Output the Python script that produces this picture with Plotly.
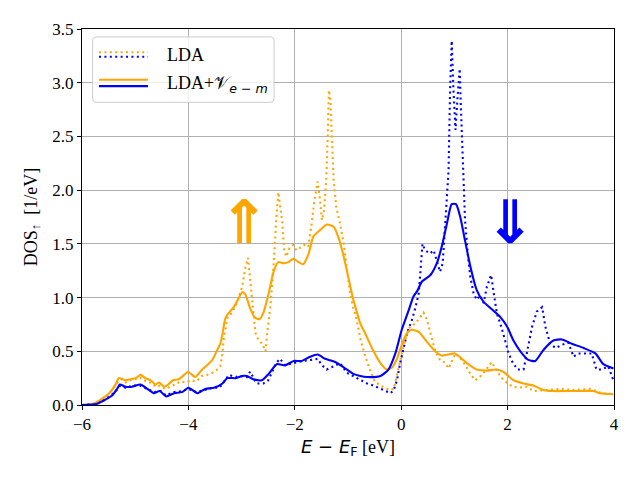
import plotly.graph_objects as go

# ---------------- data ----------------
x_lda_up = [-6.00, -5.80, -5.70, -5.60, -5.50, -5.40, -5.32, -5.25, -5.18, -5.10, -5.00, -4.92, -4.85, -4.75,
            -4.65, -4.58, -4.50, -4.42, -4.35, -4.25, -4.15, -4.05, -3.95, -3.85, -3.75, -3.65, -3.55, -3.46,
            -3.40, -3.36, -3.34, -3.31, -3.27, -3.18, -3.09, -2.99, -2.93, -2.88, -2.84, -2.78, -2.74, -2.68,
            -2.61, -2.55, -2.52, -2.46, -2.40, -2.35, -2.31, -2.24, -2.20, -2.16, -2.10, -2.03, -1.97, -1.91,
            -1.82, -1.75, -1.69, -1.63, -1.57, -1.52, -1.49, -1.45, -1.41, -1.38, -1.36, -1.33, -1.30, -1.27,
            -1.22, -1.15, -1.08, -1.02, -0.96, -0.90, -0.85, -0.76, -0.68, -0.59, -0.50, -0.39, -0.30, -0.22,
            -0.14, -0.08, -0.02, 0.05, 0.11, 0.17, 0.27, 0.36, 0.42, 0.48, 0.55, 0.64, 0.73, 0.83, 0.89, 0.96,
            1.02, 1.08, 1.17, 1.30, 1.39, 1.52, 1.64, 1.70, 1.77, 1.89, 2.02, 2.18, 2.36, 2.49, 2.74, 2.99,
            3.24, 3.55, 3.77, 3.99]
y_lda_up = [0.00, 0.01, 0.03, 0.06, 0.10, 0.16, 0.22, 0.24, 0.21, 0.23, 0.24, 0.26, 0.23, 0.22,
            0.18, 0.19, 0.16, 0.15, 0.17, 0.19, 0.22, 0.21, 0.23, 0.22, 0.27, 0.28, 0.30, 0.33,
            0.36, 0.48, 0.60, 0.68, 0.81, 0.86, 0.95, 1.10, 1.28, 1.37, 1.16, 0.85, 0.67, 0.60,
            0.57, 0.50, 0.67, 0.91, 1.29, 1.72, 1.98, 1.72, 1.44, 1.38, 1.46, 1.49, 1.44, 1.46,
            1.49, 1.47, 1.66, 1.91, 2.08, 1.88, 1.72, 1.81, 2.09, 2.52, 2.93, 2.84, 2.40, 2.09,
            1.84, 1.69, 1.50, 1.29, 1.04, 0.90, 0.82, 0.60, 0.46, 0.33, 0.22, 0.18, 0.16, 0.14,
            0.15, 0.28, 0.42, 0.56, 0.67, 0.73, 0.76, 0.82, 0.86, 0.80, 0.67, 0.50, 0.42, 0.39, 0.34, 0.41,
            0.48, 0.45, 0.40, 0.29, 0.23, 0.28, 0.36, 0.40, 0.34, 0.25, 0.19, 0.16, 0.17, 0.13, 0.14, 0.15,
            0.14, 0.15, 0.11, 0.10]

x_lda_dn = [-6.00, -5.75, -5.60, -5.45, -5.35, -5.28, -5.18, -5.05, -4.90, -4.78, -4.65, -4.52, -4.42, -4.28,
            -4.12, -4.00, -3.85, -3.70, -3.55, -3.42, -3.37, -3.24, -3.11, -3.04, -2.90, -2.84, -2.72, -2.59,
            -2.50, -2.35, -2.28, -2.18, -2.02, -1.85, -1.69, -1.57, -1.49, -1.40, -1.27, -1.15, -1.02, -0.90,
            -0.77, -0.64, -0.52, -0.39, -0.27, -0.20, -0.14, -0.08, -0.02, 0.05, 0.11, 0.20, 0.27, 0.33, 0.36,
            0.40, 0.45, 0.54, 0.61, 0.67, 0.73, 0.78, 0.82, 0.89, 0.92, 0.95, 0.98, 1.02, 1.06, 1.10, 1.12,
            1.16, 1.20, 1.25, 1.30, 1.36, 1.42, 1.48, 1.55, 1.61, 1.69, 1.74, 1.80, 1.88, 1.96, 2.02, 2.10,
            2.19, 2.30, 2.36, 2.46, 2.55, 2.65, 2.71, 2.80, 2.90, 3.02, 3.14, 3.24, 3.33, 3.46, 3.58, 3.67,
            3.77, 3.89, 3.99]
y_lda_dn = [0.00, 0.01, 0.04, 0.09, 0.14, 0.18, 0.16, 0.18, 0.18, 0.15, 0.12, 0.13, 0.09, 0.12,
            0.13, 0.15, 0.12, 0.14, 0.16, 0.16, 0.19, 0.28, 0.26, 0.27, 0.26, 0.31, 0.20, 0.20,
            0.23, 0.39, 0.43, 0.37, 0.39, 0.41, 0.42, 0.43, 0.37, 0.33, 0.36, 0.39, 0.30, 0.27,
            0.23, 0.20, 0.18, 0.15, 0.12, 0.11, 0.14, 0.23, 0.39, 0.53, 0.67, 0.79, 0.91, 1.04, 1.22,
            1.50, 1.44, 1.41, 1.44, 1.35, 1.24, 1.32, 1.60, 2.18, 2.96, 3.39, 2.96, 2.56, 2.87, 3.13, 2.80,
            2.28, 1.72, 1.41, 1.19, 1.04, 0.98, 1.02, 0.95, 1.10, 1.21, 1.04, 0.85, 0.73, 0.60, 0.48, 0.39,
            0.33, 0.33, 0.48, 0.73, 0.87, 0.91, 0.73, 0.57, 0.53, 0.56, 0.58, 0.45, 0.48, 0.48, 0.48, 0.33,
            0.33, 0.36, 0.23]

x_vem_up = [-6.00, -5.80, -5.75, -5.62, -5.49, -5.37, -5.31, -5.18, -5.09, -4.99, -4.90, -4.81, -4.71, -4.62,
            -4.55, -4.46, -4.38, -4.29, -4.18, -4.08, -4.00, -3.93, -3.87, -3.74, -3.65, -3.55, -3.46, -3.40,
            -3.36, -3.31, -3.27, -3.15, -3.06, -2.99, -2.93, -2.84, -2.74, -2.66, -2.59, -2.49, -2.40, -2.31,
            -2.21, -2.12, -2.03, -1.93, -1.84, -1.74, -1.65, -1.52, -1.40, -1.27, -1.18, -1.08, -0.99, -0.90,
            -0.83, -0.77, -0.68, -0.52, -0.39, -0.27, -0.17, -0.08, 0.01, 0.11, 0.20, 0.33, 0.48, 0.64, 0.76,
            0.89, 1.01, 1.14, 1.26, 1.42, 1.61, 1.77, 1.92, 2.11, 2.30, 2.49, 2.67, 2.86, 3.11, 3.36, 3.61,
            3.74, 3.99]
y_vem_up = [0.00, 0.01, 0.02, 0.06, 0.11, 0.19, 0.25, 0.23, 0.24, 0.25, 0.28, 0.25, 0.23, 0.19,
            0.21, 0.17, 0.19, 0.23, 0.24, 0.28, 0.31, 0.28, 0.26, 0.33, 0.37, 0.42, 0.51, 0.57,
            0.66, 0.80, 0.84, 0.91, 0.99, 1.05, 1.03, 0.90, 0.81, 0.80, 0.86, 1.04, 1.24, 1.33,
            1.32, 1.33, 1.36, 1.33, 1.31, 1.41, 1.57, 1.63, 1.68, 1.66, 1.56, 1.38, 1.18, 0.98,
            0.86, 0.76, 0.67, 0.50, 0.39, 0.33, 0.35, 0.43, 0.56, 0.67, 0.70, 0.68, 0.59, 0.50, 0.46,
            0.47, 0.48, 0.43, 0.38, 0.33, 0.32, 0.33, 0.31, 0.23, 0.20, 0.18, 0.14, 0.13, 0.13, 0.13, 0.13,
            0.11, 0.10]

x_vem_dn = [-6.00, -5.73, -5.56, -5.43, -5.34, -5.29, -5.18, -5.06, -4.90, -4.77, -4.65, -4.54, -4.42, -4.27,
            -4.12, -4.00, -3.83, -3.68, -3.52, -3.36, -3.27, -3.11, -2.99, -2.90, -2.78, -2.62, -2.49, -2.34,
            -2.18, -2.02, -1.87, -1.71, -1.57, -1.43, -1.24, -1.02, -0.90, -0.77, -0.64, -0.39, -0.24, -0.11,
            0.01, 0.14, 0.23, 0.30, 0.39, 0.55, 0.67, 0.76, 0.86, 0.95, 1.03, 1.11, 1.20, 1.30, 1.42, 1.55,
            1.73, 1.86, 1.99, 2.11, 2.24, 2.39, 2.52, 2.67, 2.86, 3.02, 3.21, 3.43, 3.65, 3.80, 3.99]
y_vem_dn = [0.00, 0.01, 0.05, 0.09, 0.15, 0.19, 0.17, 0.17, 0.19, 0.15, 0.11, 0.13, 0.08, 0.11,
            0.12, 0.16, 0.11, 0.15, 0.16, 0.20, 0.25, 0.25, 0.27, 0.27, 0.24, 0.23, 0.29, 0.38,
            0.37, 0.41, 0.41, 0.45, 0.47, 0.43, 0.40, 0.33, 0.29, 0.27, 0.26, 0.27, 0.33, 0.48,
            0.70, 0.88, 1.01, 1.06, 1.15, 1.21, 1.32, 1.47, 1.69, 1.87, 1.87, 1.75, 1.53, 1.29, 1.07, 0.96,
            0.88, 0.82, 0.73, 0.60, 0.50, 0.42, 0.41, 0.51, 0.60, 0.61, 0.57, 0.53, 0.48, 0.38, 0.34]

x_ticks = [-6, -4, -2, 0, 2, 4]
y_ticks = [0.0, 0.5, 1.0, 1.5, 2.0, 2.5, 3.0, 3.5]
SANS_I = '<span style="font-family:DejaVu Sans"><i>{}</i></span>'
legend_labels = ["LDA",
                 "LDA+𝒱<sub>" + SANS_I.format("e") + '<span style="font-family:DejaVu Sans"> − </span>'
                 + SANS_I.format("m") + "</sub>"]

ORANGE = "#FFA500"
BLUE = "#0000FF"
SERIF = "Liberation Serif"
DOT = "2px,3.4px"

fig = go.Figure()
fig.add_trace(go.Scatter(x=x_lda_up, y=y_lda_up, mode="lines", line=dict(color=ORANGE, width=2.1, dash=DOT),
                         showlegend=False, name="LDA up"))
fig.add_trace(go.Scatter(x=x_lda_dn, y=y_lda_dn, mode="lines", line=dict(color=BLUE, width=2.1, dash=DOT),
                         showlegend=False, name="LDA down"))
fig.add_trace(go.Scatter(x=x_vem_up, y=y_vem_up, mode="lines", line=dict(color=ORANGE, width=2.1, shape="spline", smoothing=0.6),
                         showlegend=False, name="LDA+V up"))
fig.add_trace(go.Scatter(x=x_vem_dn, y=y_vem_dn, mode="lines", line=dict(color=BLUE, width=2.1, shape="spline", smoothing=0.6),
                         showlegend=False, name="LDA+V down"))

# ---- custom legend (matplotlib style, two line samples per entry) ----
bx0, bx1, by0, by1, rx, ry = 0.020, 0.361, 0.805, 0.979, 0.008, 0.011
box_path = (f"M {bx0+rx},{by0} L {bx1-rx},{by0} Q {bx1},{by0} {bx1},{by0+ry} "
            f"L {bx1},{by1-ry} Q {bx1},{by1} {bx1-rx},{by1} L {bx0+rx},{by1} "
            f"Q {bx0},{by1} {bx0},{by1-ry} L {bx0},{by0+ry} Q {bx0},{by0} {bx0+rx},{by0} Z")
fig.add_shape(type="path", path=box_path, xref="paper", yref="paper", layer="above",
              fillcolor="rgba(255,255,255,0.8)", line=dict(color="#cccccc", width=1))
lx0, lx1 = 0.032, 0.124
for yy, col, dash in [(0.938, ORANGE, "dot"), (0.926, BLUE, "dot"), (0.865, ORANGE, "solid"), (0.848, BLUE, "solid")]:
    fig.add_shape(type="line", xref="paper", yref="paper", x0=lx0, x1=lx1, y0=yy, y1=yy, layer="above",
                  line=dict(color=col, width=2.1, dash=DOT if dash == "dot" else "solid"))
fig.add_annotation(x=0.156, y=0.932, xref="paper", yref="paper", text=legend_labels[0], showarrow=False,
                   xanchor="left", yanchor="middle", font=dict(family=SERIF, size=18, color="black"))
fig.add_annotation(x=0.156, y=0.852, xref="paper", yref="paper", text=legend_labels[1], showarrow=False,
                   xanchor="left", yanchor="middle", font=dict(family=SERIF, size=18, color="black"))

# ---- spin arrows ----
fig.add_annotation(x=-2.95, y=1.70, text="<b>⇑</b>", showarrow=False, xanchor="center", yanchor="middle",
                   font=dict(family="DejaVu Sans", size=60, color=ORANGE))
fig.add_annotation(x=2.04, y=1.70, text="<b>⇓</b>", showarrow=False, xanchor="center", yanchor="middle",
                   font=dict(family="DejaVu Sans", size=60, color=BLUE))

axis_common = dict(showline=True, mirror=True, linecolor="black", linewidth=1,
                   ticks="outside", ticklen=4, tickwidth=1, tickcolor="black",
                   showgrid=True, gridcolor="#b0b0b0", gridwidth=0.8, zeroline=False,
                   tickfont=dict(family=SERIF, size=17, color="black"))
fig.update_xaxes(range=[-6, 4], tickvals=x_ticks, **axis_common,
                 title=dict(text='<span style="font-family:DejaVu Sans"><i>E</i> − <i>E</i><sub>F</sub></span> [eV]',
                            font=dict(family=SERIF, size=18, color="black"), standoff=6))
fig.update_yaxes(range=[0, 3.5], tickvals=y_ticks, tickformat=".1f", **axis_common,
                 title=dict(text="DOS<sub>↑</sub>  [1/eV]", font=dict(family=SERIF, size=18, color="black"), standoff=10))

# the page adds an 8px body margin, so margins are offset to keep the plot area in place
fig.update_layout(width=640, height=480, margin=dict(l=74, r=34, t=21, b=83),
                  plot_bgcolor="white", paper_bgcolor="white", showlegend=False)
fig.write_html("out.html")
